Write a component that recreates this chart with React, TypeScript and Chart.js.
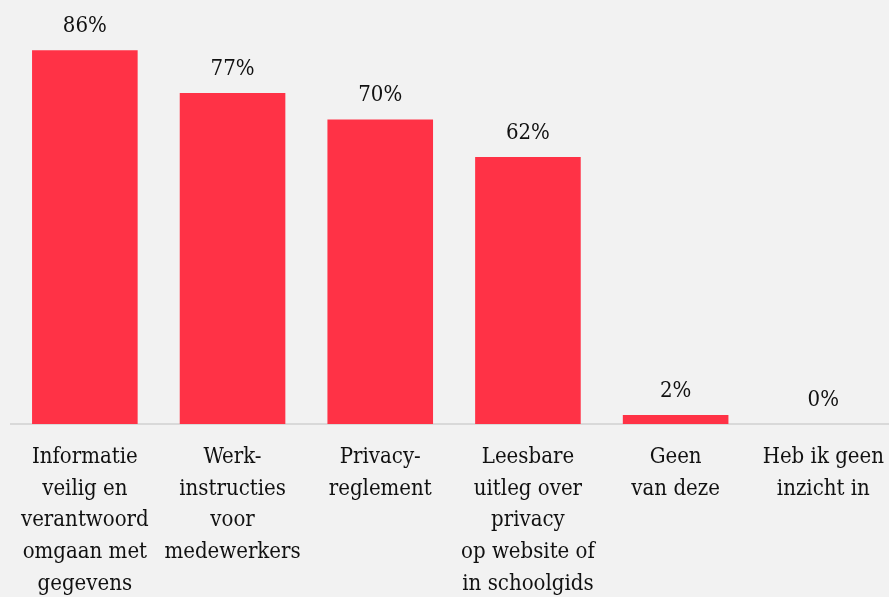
import React, { useEffect, useRef } from "react";
import { Chart, registerables } from "chart.js";

Chart.register(...registerables);

const categories: string[][] = [
  ["Informatie", "veilig en", "verantwoord", "omgaan met", "gegevens"],
  ["Werk-", "instructies", "voor", "medewerkers"],
  ["Privacy-", "reglement"],
  ["Leesbare", "uitleg over", "privacy", "op website of", "in schoolgids"],
  ["Geen", "van deze"],
  ["Heb ik geen", "inzicht in"],
];
const values: number[] = [86.4, 76.5, 70.4, 61.7, 2.1, 0];

const FONT = "'DejaVu Serif Condensed', 'DejaVu Serif', serif";

const valueLabels = {
  id: "valueLabels",
  afterDatasetsDraw(chart: any) {
    const ctx = chart.ctx;
    const meta = chart.getDatasetMeta(0);
    ctx.save();
    ctx.font = `22px ${FONT}`;
    ctx.fillStyle = "#111111";
    ctx.textAlign = "center";
    ctx.textBaseline = "alphabetic";
    meta.data.forEach((bar: any, i: number) => {
      const v = chart.data.datasets[0].data[i] as number;
      ctx.fillText(`${Math.round(v)}%`, bar.x, bar.y - 18);
    });
    ctx.restore();
  },
};

export default function App() {
  const ref = useRef<HTMLCanvasElement | null>(null);
  useEffect(() => {
    if (!ref.current) return;
    const chart = new Chart(ref.current, {
      type: "bar",
      data: {
        labels: categories,
        datasets: [
          {
            data: values,
            backgroundColor: "#FF3246",
            barPercentage: 0.715,
            categoryPercentage: 1,
          },
        ],
      },
      options: {
        animation: false,
        responsive: false,
        maintainAspectRatio: false,
        layout: { padding: { left: 11, right: 0, top: 0, bottom: 0 } },
        plugins: {
          legend: { display: false },
          tooltip: { enabled: false },
        },
        scales: {
          x: {
            grid: { display: false, drawTicks: false },
            border: { display: true, color: "#D9D9D9", width: 2 },
            ticks: {
              color: "#111111",
              font: { family: FONT, size: 22, lineHeight: 1.45 },
              padding: 17,
              maxRotation: 0,
              autoSkip: false,
            },
            afterFit: (scale: any) => {
              scale.height = 173;
            },
          },
          y: {
            display: false,
            min: 0,
            max: 98,
          },
        },
      },
      plugins: [valueLabels],
    });
    return () => chart.destroy();
  }, []);
  return (
    <div
      style={{
        position: "fixed",
        left: 0,
        top: 0,
        width: 889,
        height: 597,
        overflow: "hidden",
        background: "#F2F2F2",
      }}
    >
      <canvas ref={ref} width={901} height={597} style={{ width: 901, height: 597, display: "block" }} />
    </div>
  );
}
